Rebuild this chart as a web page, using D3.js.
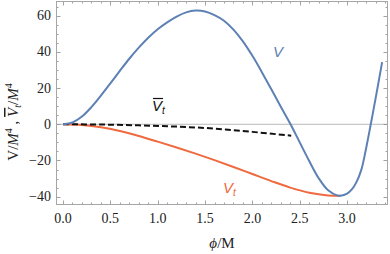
<!DOCTYPE html>
<html>
<head>
<meta charset="utf-8">
<script src="https://cdn.jsdelivr.net/npm/d3@7"></script>
<style>
  body { margin: 0; background: #fff; }
  svg { display: block; }
</style>
</head>
<body>
<div id="chart"></div>
<script>
// values
const phiV = [0, 0.1, 0.2, 0.3, 0.4, 0.5, 0.6, 0.7, 0.8, 0.9, 1.0, 1.1, 1.2, 1.3, 1.4, 1.5, 1.6, 1.7, 1.8, 1.9, 2.0,
  2.1, 2.2, 2.3, 2.4, 2.5, 2.6, 2.7, 2.8, 2.9, 2.93, 3.0, 3.05, 3.1, 3.15, 3.2, 3.25, 3.3, 3.37];
const valV = [0, 1.0, 4.3, 9.5, 15.8, 22.6, 29.5, 36.2, 42.3, 47.8, 52.5, 56.3, 59.5, 61.8, 62.8, 62.3, 60.3, 57.2, 52.3, 45.8, 37.8,
  28.8, 19.3, 9.7, 0.3, -10, -20.3, -29.8, -36.5, -39.4, -39.5, -38.3, -36, -31.8, -25.2, -13.5, 0, 14, 34.3];

const phiVt = [0, 0.2, 0.4, 0.6, 0.8, 1.0, 1.2, 1.4, 1.6, 1.8, 2.0, 2.2, 2.4, 2.6, 2.8, 2.93];
const valVt = [0, -0.4, -1.6, -3.7, -6.5, -9.6, -12.8, -16.2, -19.8, -23.6, -27.5, -31.4, -35.0, -37.8, -39.3, -39.5];

const phiVbar = [0, 0.4, 0.8, 1.2, 1.6, 2.0, 2.41];
const valVbar = [0, -0.15, -0.6, -1.3, -2.4, -4.2, -6.3];

const xTicks = [0, 0.5, 1.0, 1.5, 2.0, 2.5, 3.0];
const yTicks = [-40, -20, 0, 20, 40, 60];

const width = 390, height = 254;
const margin = { top: 1, right: 2, bottom: 49, left: 56 };

const svg = d3.select('#chart').append('svg')
  .attr('width', width).attr('height', height);

const xScale = d3.scaleLinear().domain([-0.074, 3.432]).range([margin.left, width - margin.right]);
const yScale = d3.scaleLinear().domain([-44.6, 68.1]).range([height - margin.bottom, margin.top]);

const x0 = margin.left, x1 = width - margin.right;
const y0 = height - margin.bottom, y1 = margin.top;

// zero line
svg.append('line')
  .attr('x1', x0).attr('x2', x1)
  .attr('y1', yScale(0)).attr('y2', yScale(0))
  .attr('stroke', '#b8b8b8').attr('stroke-width', 1);

// minor/major ticks on all four sides
const tickColor = '#8a8a8a';
const xMinor = d3.range(0, 35).map(i => i / 10).filter(v => v <= 3.43);
const yMinor = d3.range(-40, 70, 5);
const ticks = svg.append('g').attr('stroke', tickColor).attr('stroke-width', 0.8);
xMinor.forEach(v => {
  const major = Math.abs(v * 2 - Math.round(v * 2)) < 1e-6;
  const len = major ? 4.5 : 2.5;
  const px = Math.round(xScale(v)) + 0.5;
  ticks.append('line').attr('x1', px).attr('x2', px).attr('y1', y0).attr('y2', y0 - len);
  ticks.append('line').attr('x1', px).attr('x2', px).attr('y1', y1).attr('y2', y1 + len);
});
yMinor.forEach(v => {
  const major = v % 20 === 0;
  const len = major ? 4.5 : 2.5;
  const py = Math.round(yScale(v)) + 0.5;
  ticks.append('line').attr('x1', x0).attr('x2', x0 + len).attr('y1', py).attr('y2', py);
  ticks.append('line').attr('x1', x1).attr('x2', x1 - len).attr('y1', py).attr('y2', py);
});

// frame
svg.append('rect')
  .attr('x', x0 + 0.5).attr('y', y1 + 0.5)
  .attr('width', x1 - x0 - 1).attr('height', y0 - y1 - 1)
  .attr('fill', 'none').attr('stroke', '#a6a6a6').attr('stroke-width', 1);

// tick labels
const serif = '"Liberation Serif", "Times New Roman", serif';
svg.append('g').selectAll('text').data(xTicks).join('text')
  .attr('x', d => xScale(d)).attr('y', y0 + 18)
  .attr('text-anchor', 'middle')
  .attr('font-family', serif).attr('font-size', 14).attr('fill', '#222')
  .text(d => d3.format('.1f')(d));

svg.append('g').selectAll('text').data(yTicks).join('text')
  .attr('x', x0 - 5).attr('y', d => yScale(d) + 4.5)
  .attr('text-anchor', 'end')
  .attr('font-family', serif).attr('font-size', 14).attr('fill', '#222')
  .text(d => d < 0 ? '\u2212' + Math.abs(d) : d);

// curves
const line = d3.line()
  .x(d => xScale(d[0])).y(d => yScale(d[1]))
  .curve(d3.curveCatmullRom.alpha(0.5));

svg.append('path')
  .attr('d', line(d3.zip(phiVt, valVt)))
  .attr('fill', 'none').attr('stroke', '#ef6a3e').attr('stroke-width', 2);

svg.append('path')
  .attr('d', line(d3.zip(phiVbar, valVbar)))
  .attr('fill', 'none').attr('stroke', '#111').attr('stroke-width', 2)
  .attr('stroke-dasharray', '6,3');

svg.append('path')
  .attr('d', line(d3.zip(phiV, valV)))
  .attr('fill', 'none').attr('stroke', '#5e81b5').attr('stroke-width', 2);

// curve labels
const sans = '"Liberation Sans", Arial, sans-serif';
svg.append('text')
  .attr('x', 273).attr('y', 57)
  .attr('font-family', sans).attr('font-style', 'italic').attr('font-size', 15)
  .attr('fill', '#5e81b5').text('V');

const vt = svg.append('text')
  .attr('x', 223).attr('y', 193)
  .attr('font-family', sans).attr('font-style', 'italic').attr('font-size', 15)
  .attr('fill', '#ef6a3e');
vt.append('tspan').text('V');
vt.append('tspan').attr('font-size', 10).attr('dy', 3).text('t');

const vb = svg.append('text')
  .attr('x', 152).attr('y', 111)
  .attr('font-family', sans).attr('font-style', 'italic').attr('font-size', 15)
  .attr('fill', '#111');
vb.append('tspan').text('V');
vb.append('tspan').attr('font-size', 10).attr('dy', 3).text('t');
svg.append('line')
  .attr('x1', 153).attr('x2', 163).attr('y1', 98.5).attr('y2', 98.5)
  .attr('stroke', '#111').attr('stroke-width', 1.2);

// axis titles
const xt = svg.append('text')
  .attr('x', 222).attr('y', 248)
  .attr('text-anchor', 'middle')
  .attr('font-family', serif).attr('font-size', 15).attr('fill', '#222');
xt.append('tspan').attr('font-style', 'italic').text('\u03d5');
xt.append('tspan').text('/M');

const yt = svg.append('text')
  .attr('transform', 'translate(18,122) rotate(-90)')
  .attr('text-anchor', 'middle')
  .attr('font-family', serif).attr('font-size', 15).attr('fill', '#222');
yt.append('tspan').text('V/');
yt.append('tspan').attr('font-style', 'italic').text('M');
yt.append('tspan').attr('font-size', 10).attr('dy', -6).text('4');
yt.append('tspan').attr('dy', 6).text(' , ');
yt.append('tspan').attr('font-style', 'italic').style('text-decoration', 'overline').text('V');
yt.append('tspan').attr('font-size', 10).attr('font-style', 'italic').attr('dy', 3).text('t');
yt.append('tspan').attr('dy', -3).text('/');
yt.append('tspan').attr('font-style', 'italic').text('M');
yt.append('tspan').attr('font-size', 10).attr('dy', -6).text('4');
</script>
</body>
</html>
